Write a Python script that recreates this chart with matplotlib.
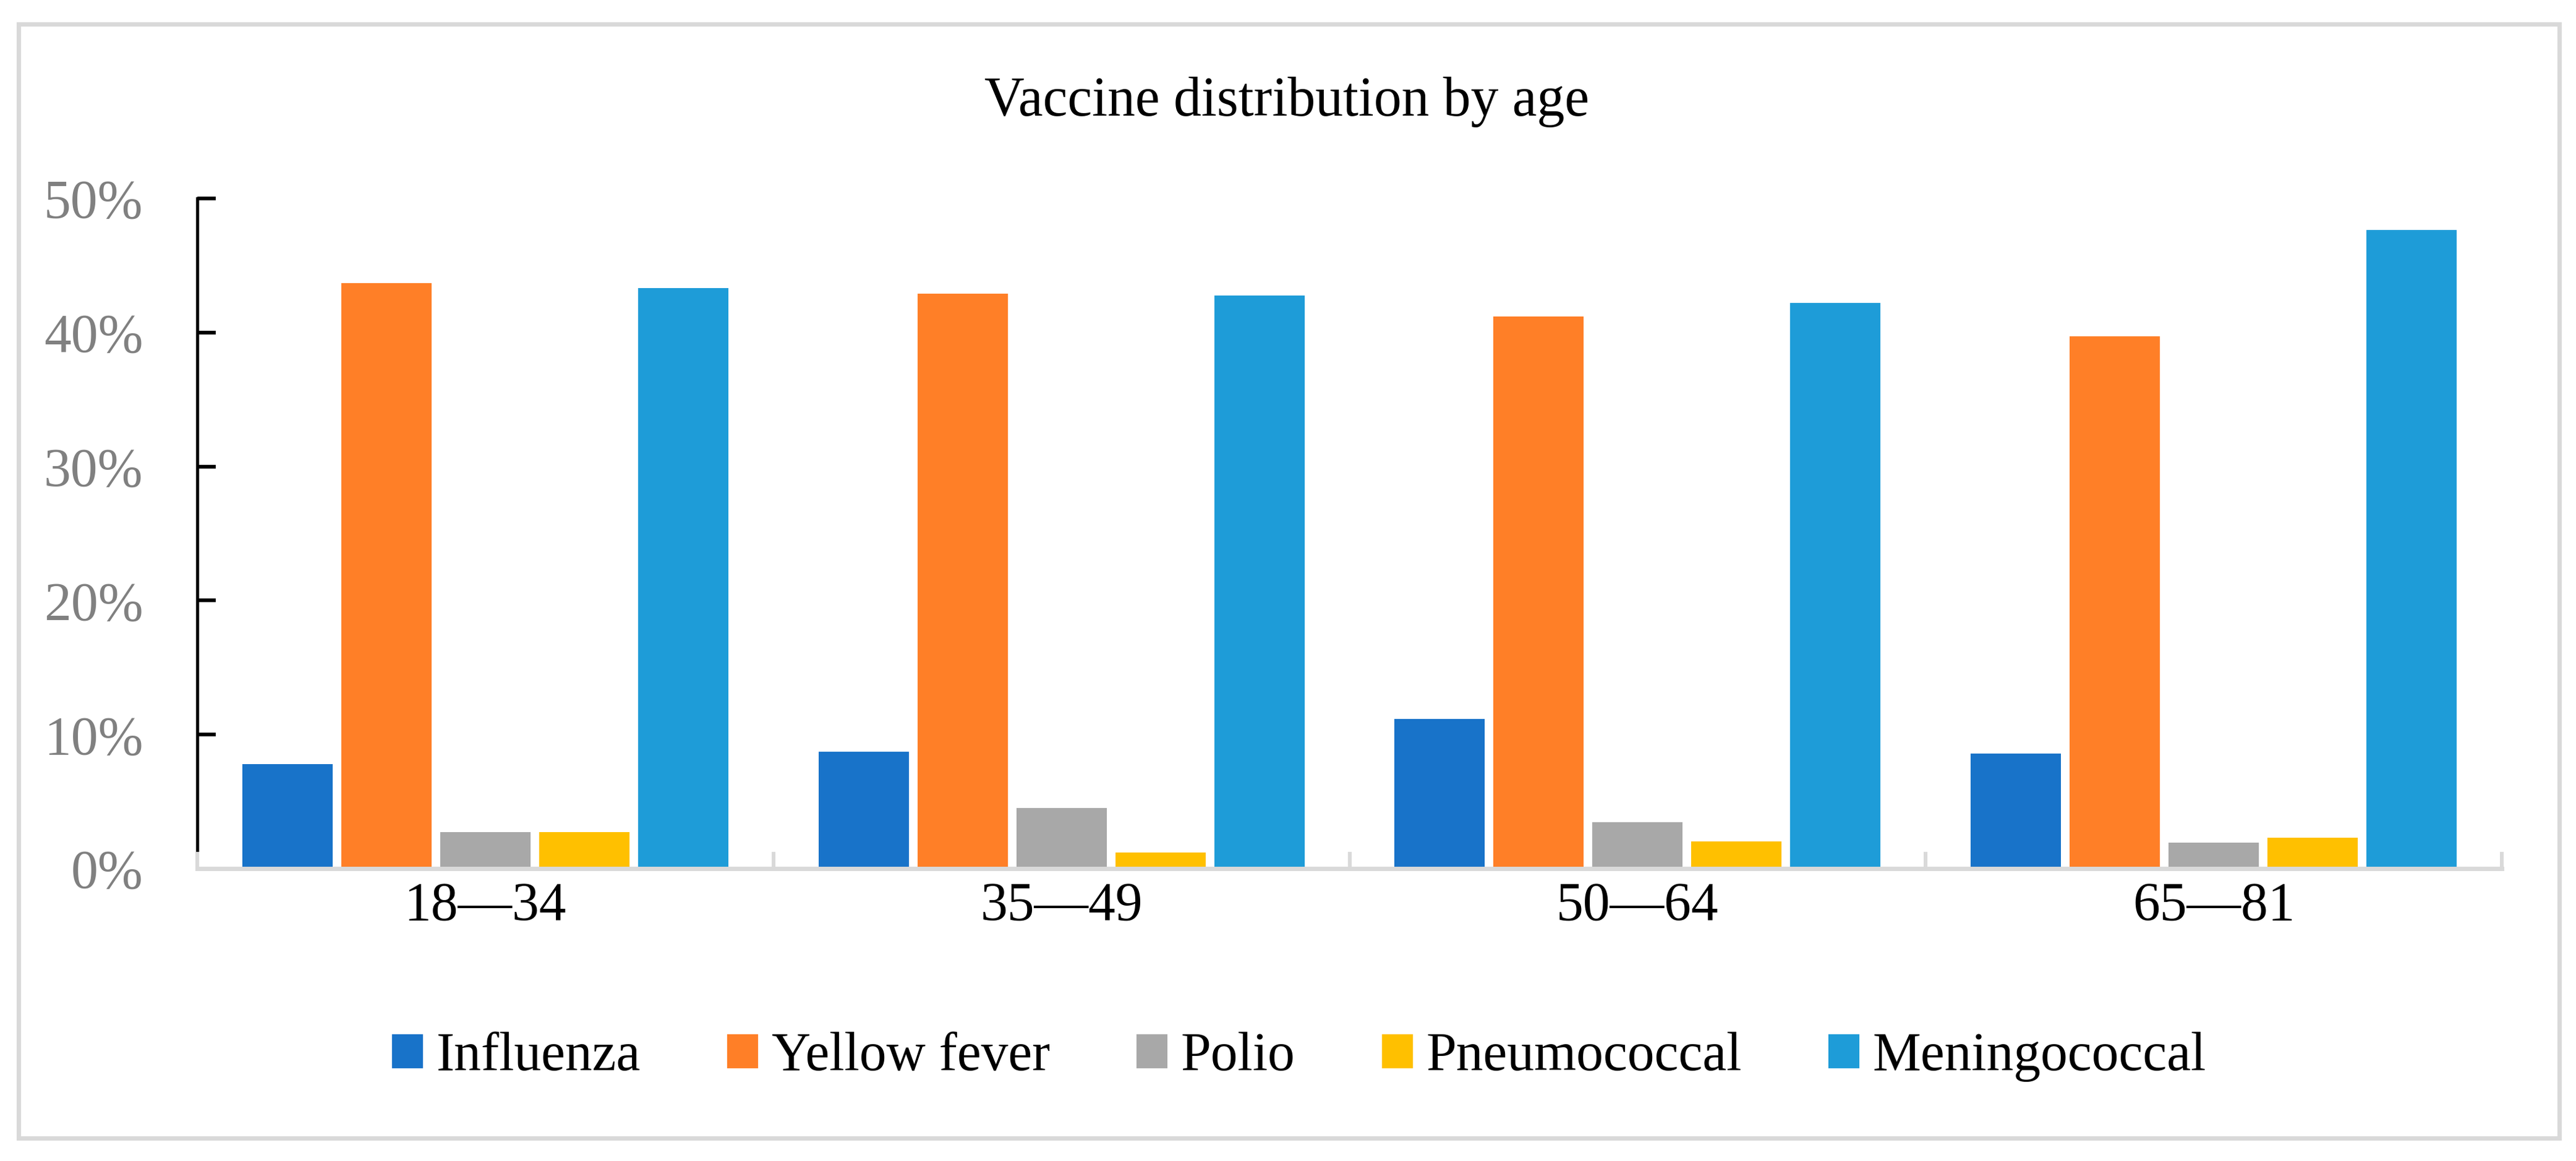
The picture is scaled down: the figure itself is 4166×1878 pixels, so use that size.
import numpy as np
import matplotlib
matplotlib.use('Agg')
import matplotlib.pyplot as plt
from matplotlib.patches import Rectangle
from matplotlib.ticker import PercentFormatter

plt.rcParams['font.family'] = ['Liberation Serif', 'DejaVu Serif']

age_groups = ['18\u201434', '35\u201449', '50\u201464', '65\u201481']
vaccines = ['Influenza', 'Yellow fever', 'Polio', 'Pneumococcal', 'Meningococcal']
influenza = [7.8, 8.7, 11.15, 8.6]
yellow_fever = [43.7, 42.9, 41.2, 39.7]
polio = [2.7, 4.5, 3.45, 1.95]
pneumococcal = [2.7, 1.2, 2.05, 2.3]
meningococcal = [43.3, 42.75, 42.2, 47.65]
values = [influenza, yellow_fever, polio, pneumococcal, meningococcal]
colors = ['#1873c9', '#ff7f27', '#a8a8a8', '#ffc000', '#1e9cd8']

W, H = 4166, 1878
dpi = 300
fig = plt.figure(figsize=(W / dpi, H / dpi), dpi=dpi)
ax = fig.add_axes([319 / W, 1 - 1405 / H, (4046 - 319) / W, (1405 - 321) / H])

x = np.arange(len(age_groups))
pitch = 0.1717
width = 0.1567
for i, (name, vals, c) in enumerate(zip(vaccines, values, colors)):
    ax.bar(x + (i - 2) * pitch, np.array(vals) / 100, width, color=c, label=name, zorder=2)

ax.set_xlim(-0.5, len(age_groups) - 0.5)
ax.set_ylim(0, 0.5)
ax.set_yticks(np.arange(0, 0.51, 0.1))
ax.yaxis.set_major_formatter(PercentFormatter(1.0, decimals=0))

ax.set_xticks(x)
ax.set_xticklabels(age_groups)
ax.set_xticks(np.arange(-0.5, len(age_groups), 1), minor=True)

for s in ['top', 'right']:
    ax.spines[s].set_visible(False)
ax.spines['bottom'].set_color('#d9d9d9')
ax.spines['bottom'].set_linewidth(1.68)
ax.spines['left'].set_color('black')
ax.spines['left'].set_linewidth(1.2)
ax.spines['left'].set_bounds(0.014, 0.5)

ax.tick_params(axis='x', which='major', length=0, pad=5, labelsize=21, labelcolor='black')
ax.tick_params(axis='x', which='minor', direction='in', length=6.5, width=1.44, color='#d9d9d9')
ax.tick_params(axis='y', direction='in', length=7.2, width=1.44, color='black',
               pad=21, labelsize=21, labelcolor='#808080')
ax.yaxis.get_major_ticks()[0].tick1line.set_visible(False)

fig.text(0.4995, 1 - 187 / H, 'Vaccine distribution by age', ha='center', va='baseline', fontsize=21.5)

fig.legend(loc='center', bbox_to_anchor=(2101 / W, 1 - 1710 / H), ncol=5, frameon=False,
           fontsize=21, handlelength=0.57, handleheight=0.58, handletextpad=0.25,
           columnspacing=1.6)

fig.patches.append(Rectangle((30 / W, 1 - 1841 / H), (4139 - 30) / W, (1841 - 39) / H,
                             transform=fig.transFigure, fill=False,
                             edgecolor='#d9d9d9', linewidth=1.68))

fig.savefig('out.png', dpi=dpi)
